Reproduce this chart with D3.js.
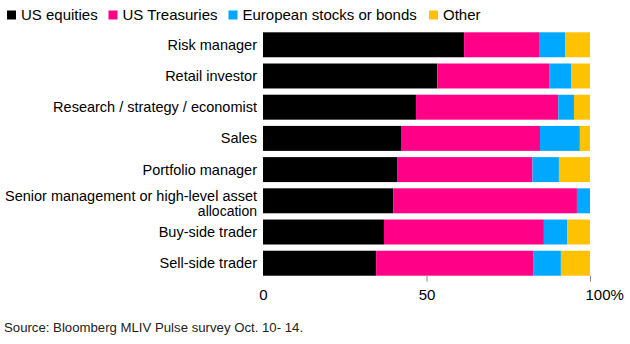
<!DOCTYPE html>
<html>
<head>
<meta charset="utf-8">
<script src="https://cdn.jsdelivr.net/npm/d3@7"></script>
<style>
  body { margin: 0; background: #fff; }
  svg { font-family: "Liberation Sans", Arial, sans-serif; }
</style>
</head>
<body>
<script>
// survey roles, top to bottom
var roles = ["Risk manager", "Retail investor", "Research / strategy / economist", "Sales",
  "Portfolio manager", "Senior management or high-level asset allocation",
  "Buy-side trader", "Sell-side trader"];

var seriesNames = ["US equities", "US Treasuries", "European stocks or bonds", "Other"];
var seriesColors = ["#000000", "#ff0087", "#00a8ff", "#ffc200"];

// shares in percent
var usEquities   = [61.5, 53.3, 46.8, 42.2, 41.0, 39.8, 37.0, 34.6];
var usTreasuries = [22.9, 34.2, 43.5, 42.5, 41.4, 56.2, 48.9, 48.0];
var euroStocks   = [8.0, 6.7, 4.8, 12.2, 8.1, 4.0, 7.1, 8.5];
var other        = [7.6, 5.8, 4.9, 3.1, 9.5, 0.0, 7.0, 8.9];

var tickValues = [0, 50, 100];

var data = roles.map(function (r, i) {
  return { role: r, "US equities": usEquities[i], "US Treasuries": usTreasuries[i],
    "European stocks or bonds": euroStocks[i], "Other": other[i] };
});

var W = 630, H = 344;
var svg = d3.select("body").append("svg")
  .attr("width", W)
  .attr("height", H);

var x = d3.scaleLinear().domain([0, 100]).range([263, 590]);
var y = d3.scaleBand().domain(roles).range([32.3, 275.7]).paddingInner(0.2).paddingOuter(0);
var color = d3.scaleOrdinal().domain(seriesNames).range(seriesColors);

var stack = d3.stack().keys(seriesNames)(data);

// bars
svg.append("g").selectAll("g")
  .data(stack)
  .enter()
  .append("g")
  .attr("fill", function (d) { return color(d.key); })
  .selectAll("rect")
  .data(function (d) { return d; })
  .enter()
  .append("rect")
  .attr("x", function (d) { return x(d[0]); })
  .attr("width", function (d) { return x(d[1]) - x(d[0]); })
  .attr("y", function (d) { return y(d.data.role); })
  .attr("height", y.bandwidth());

// role labels
var labels = svg.append("g").selectAll("text")
  .data(roles)
  .enter()
  .append("text")
  .attr("text-anchor", "end")
  .attr("font-size", 14.5)
  .attr("fill", "#000")
  .attr("x", 257)
  .attr("y", function (d) { return y(d) + y.bandwidth() / 2 + 5; });

labels.each(function (d) {
  var t = d3.select(this);
  if (d.indexOf("Senior") === 0) {
    t.attr("font-size", 14);
    t.append("tspan").attr("x", 257).attr("dy", -4.5).text("Senior management or high-level asset")
      .attr("textLength", 252).attr("lengthAdjust", "spacingAndGlyphs");
    t.append("tspan").attr("x", 257).attr("dy", 14.5).text("allocation");
  } else {
    t.text(d);
  }
});

// x axis
var axis = svg.append("g")
  .attr("transform", "translate(0," + 275.7 + ")")
  .call(d3.axisBottom(x).tickValues(tickValues).tickSize(6).tickPadding(8)
    .tickFormat(function (d) { return d === 100 ? "100%" : d; }));
axis.select(".domain").remove();
axis.selectAll(".tick line").attr("stroke", "#888")
  .attr("opacity", function (d) { return d === 0 ? 0 : 1; });
axis.selectAll(".tick text")
  .attr("font-family", "Liberation Sans, Arial, sans-serif")
  .attr("font-size", 15)
  .attr("fill", "#000")
  .attr("text-anchor", function (d) { return d === 100 ? "start" : "middle"; })
  .attr("dx", function (d) { return d === 100 ? -5 : 0; });

// legend
var legendX = [7, 108.5, 228.5, 429];
var legend = svg.append("g").selectAll("g")
  .data(seriesNames)
  .enter()
  .append("g")
  .attr("transform", function (d, i) { return "translate(" + legendX[i] + ",10.5)"; });
legend.append("rect")
  .attr("width", 9).attr("height", 9)
  .attr("fill", function (d) { return color(d); });
legend.append("text")
  .attr("x", 14).attr("y", 9.5)
  .attr("font-size", 15)
  .text(function (d) { return d; });

// source
svg.append("text")
  .attr("x", 4).attr("y", 332)
  .attr("font-size", 13.2)
  .attr("fill", "#222")
  .text("Source: Bloomberg MLIV Pulse survey Oct. 10- 14.");
</script>
</body>
</html>
